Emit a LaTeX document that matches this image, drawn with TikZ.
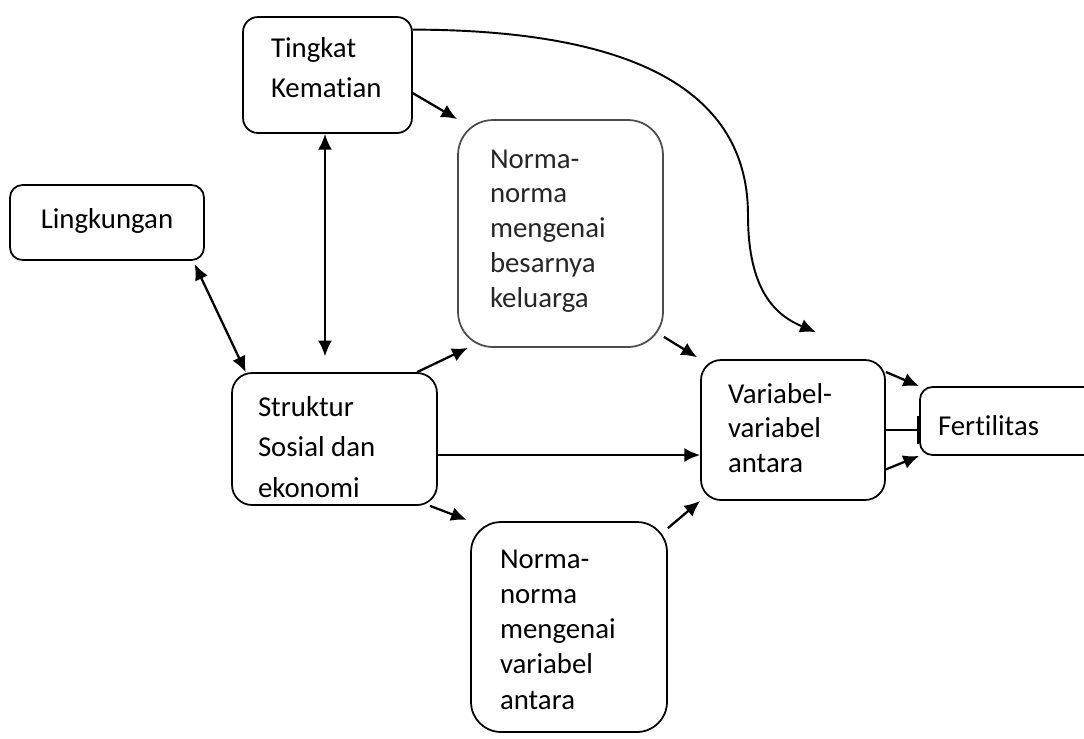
\documentclass[tikz,border=0pt]{standalone}
\usepackage{fontspec}
\setmainfont{Carlito}[Ligatures=NoCommon]
\usetikzlibrary{arrows.meta}
\hyphenpenalty=10000
\tikzset{
	kotak/.style={draw, line width=1pt, align=flush left, inner ysep=0pt, text height=0.4cm},
	jarak/.style={font=\fontsize{16.4}{#1}\selectfont},
	panah/.style={line width=1.3pt, -{Latex[length=9pt,width=8pt]}},
	duapanah/.style={line width=1.3pt, {Latex[length=9pt,width=8pt]}-{Latex[length=9pt,width=8pt]}},
	batas/.style={line width=1.3pt, -{Bar[width=16pt,line width=1.3pt]}}
}

\begin{document}
\begin{tikzpicture}[x=0.02cm, y=-0.02cm]
		\useasboundingbox (0,0) rectangle (1084,738);
		\clip (0,0) rectangle (1084,738);
		\node[kotak, jarak=23.2, rounded corners=0.3cm, text width=2.26cm, inner xsep=0.56cm, minimum height=2.32cm, text depth=1.12cm] (tingkat) at (327.5,75) {Tingkat\\Kematian};
		\node[kotak, jarak=23.2, rounded corners=0.25cm, align=center, minimum width=3.88cm, minimum height=1.5cm, text depth=0.18cm] (lingk) at (107,222.5) {Lingkungan};
		\node[kotak, jarak=19.8, draw=black!70, text=black!85, rounded corners=0.7cm, text width=2.82cm, inner xsep=0.64cm, minimum height=4.54cm, text depth=3.02cm] (normabesar) at (560.5,233.5) {Norma-\\norma\\mengenai\\besarnya\\keluarga};
		\node[kotak, jarak=23.2, rounded corners=0.4cm, text width=3.06cm, inner xsep=0.52cm, minimum height=2.64cm, text depth=1.32cm] (struktur) at (334.5,439) {Struktur\\Sosial dan\\ekonomi};
		\node[kotak, jarak=19.8, rounded corners=0.4cm, text width=2.6cm, inner xsep=0.54cm, minimum height=2.8cm, text depth=1.48cm] (variabel) at (793,430) {Variabel-\\variabel\\antara};
		\node[kotak, jarak=23.2, rounded corners=0.25cm, text width=2.88cm, inner xsep=0.36cm, minimum height=1.36cm, text height=0.68cm, text depth=0.12cm] (fert) at (1010,421) {Fertilitas};
		\node[kotak, jarak=20.1, rounded corners=0.6cm, text width=2.76cm, inner xsep=0.58cm, minimum height=4.2cm, text depth=2.76cm] (normavar) at (569,627) {Norma-\\norma\\mengenai\\variabel\\antara};
		\draw[panah] (tingkat.-12) -- (normabesar.north west);
		\draw[line width=1.1pt, -{Latex[length=9pt,width=8pt]}] (tingkat.28) .. controls (650,30) and (748,100) .. (748,215) .. controls (748,290) and (775,315) .. ([shift={(-70,-27)}]variabel.north east);
		\draw[duapanah, shorten >=9pt] ([xshift=-0.05cm]tingkat.south) -- ([xshift=-0.05cm]tingkat.south |- struktur.north);
		\draw[duapanah, shorten <=2pt] (lingk.-24) -- (struktur.143);
		\draw[panah] (struktur.39) -- (normabesar.231);
		\draw[panah, shorten >=2pt] (normabesar.-45) -- (variabel.north west);
		\draw[panah] ([yshift=-0.32cm]struktur.east) -- ([yshift=-0.32cm]struktur.east -| variabel.west);
		\draw[panah, shorten >=2pt] (struktur.-35) -- (normavar.north west);
		\draw[panah] (normavar.45) -- (variabel.south west);
		\draw[panah] (variabel.32) -- (fert.north west);
		\draw[batas] (variabel.east) -- (variabel.east -| fert.west);
		\draw[panah] (variabel.-23) -- (fert.south west);
\end{tikzpicture}
\end{document}
